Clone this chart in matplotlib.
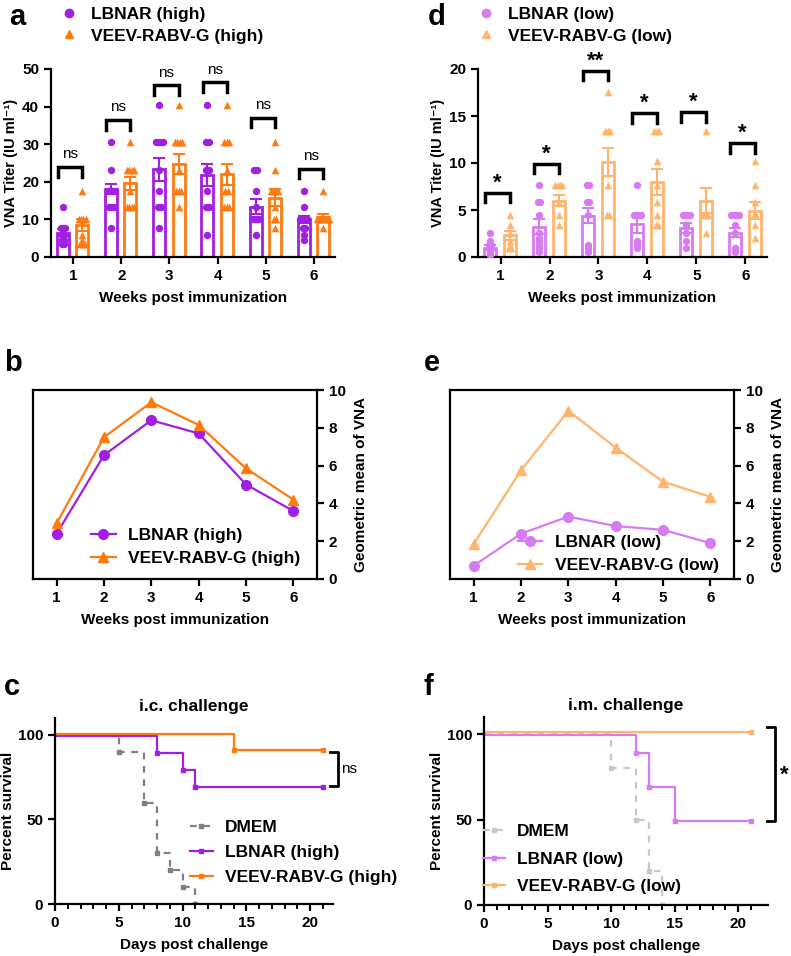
import matplotlib
matplotlib.use("Agg")
import matplotlib.pyplot as plt
import numpy as np
from matplotlib.lines import Line2D

plt.rcParams['font.family'] = ['Liberation Sans', 'DejaVu Sans']
plt.rcParams['font.weight'] = 'bold'
plt.rcParams['axes.labelweight'] = 'bold'
plt.rcParams['axes.linewidth'] = 1.6

W, H = 791, 956

# colours
PURPLE = '#A11FE0'
ORANGE = '#FF7B10'
LPURPLE = '#D77CF0'
LORANGE = '#FFB56E'
GRAY = '#808080'
LGRAY = '#C8C8C8'

weeks = [1, 2, 3, 4, 5, 6]

# ---- panel a: high dose titers ----
lbnar_high_mean = [6.5, 18.0, 23.3, 21.8, 13.4, 10.0]
lbnar_high_sem = [1.0, 1.3, 3.0, 3.0, 2.0, 1.0]
veev_high_mean = [8.5, 19.6, 24.7, 22.0, 15.8, 10.7]
veev_high_sem = [1.5, 1.8, 2.6, 2.8, 2.2, 0.8]
lbnar_high_pts = [
    [13.4, 7.7, 7.7, 7.7, 5.9, 5.9, 4.5, 4.5, 3.4, 3.4],
    [30.6, 23.2, 17.6, 17.6, 17.6, 17.6, 13.4, 13.4, 13.4, 7.7],
    [40.3, 30.6, 30.6, 30.6, 30.6, 23.2, 17.6, 13.4, 13.4, 7.7],
    [40.3, 30.6, 30.6, 23.2, 23.2, 17.6, 13.4, 13.4, 5.9],
    [23.2, 23.2, 17.6, 13.4, 10.2, 10.2, 10.2, 10.2, 5.9],
    [17.6, 13.4, 10.2, 10.2, 10.2, 10.2, 7.7, 7.7, 5.9, 4.5],
]
veev_high_pts = [
    [17.6, 10.2, 10.2, 10.2, 10.2, 5.9, 4.5, 3.4, 3.4, 3.4],
    [30.6, 23.2, 23.2, 23.2, 23.2, 17.6, 13.4, 13.4, 13.4, 13.4],
    [40.3, 30.6, 30.6, 30.6, 30.6, 23.2, 17.6, 17.6, 17.6, 13.4],
    [40.3, 30.6, 30.6, 30.6, 23.2, 17.6, 17.6, 13.4, 13.4, 13.4],
    [30.6, 23.2, 17.6, 17.6, 17.6, 17.6, 13.4, 10.2, 10.2, 7.7],
    [17.6, 10.2, 10.2, 10.2, 10.2, 10.2, 10.2, 7.7],
]
sig_high = ['ns', 'ns', 'ns', 'ns', 'ns', 'ns']
bracket_high = [23.9, 36.4, 45.7, 46.5, 37.0, 23.4]

# ---- panel d: low dose titers ----
lbnar_low_mean = [1.0, 3.2, 4.4, 3.5, 3.1, 2.6]
lbnar_low_sem = [0.3, 0.8, 0.8, 0.9, 0.5, 0.5]
veev_low_mean = [2.3, 6.0, 10.1, 8.0, 6.0, 4.9]
veev_low_sem = [0.5, 0.6, 1.5, 1.4, 1.3, 0.9]
lbnar_low_pts = [
    [2.6, 1.7, 1.3, 1.3, 1.0, 0.8, 0.6, 0.5, 0.3, 0.2],
    [7.7, 5.9, 5.9, 4.5, 2.6, 2.0, 1.7, 1.3, 1.0, 0.5],
    [7.7, 7.7, 5.9, 5.9, 4.5, 1.3, 1.0, 0.5],
    [7.7, 4.5, 4.5, 4.5, 4.5, 1.7, 1.3, 1.0],
    [4.5, 4.5, 4.5, 4.5, 3.4, 2.6, 1.7, 1.0],
    [4.5, 4.5, 4.5, 4.5, 3.4, 2.6, 1.0, 0.8, 0.6, 0.5],
]
veev_low_pts = [
    [4.5, 3.4, 2.6, 1.7, 1.3, 1.0, 1.0],
    [7.7, 7.7, 7.7, 7.7, 5.9, 4.5, 3.4],
    [17.6, 13.4, 13.4, 13.4, 7.7, 4.5, 4.5],
    [13.4, 13.4, 13.4, 10.2, 7.7, 5.9, 4.5, 3.4, 3.4],
    [13.4, 4.5, 4.5, 4.5, 2.6],
    [10.2, 7.7, 5.9, 4.5, 4.5, 3.4, 2.0],
]
sig_low = ['*', '*', '**', '*', '*', '*']
bracket_low = [6.8, 9.9, 19.8, 15.3, 15.4, 12.1]

# ---- panels b, e: geometric means ----
gm_lbnar_high = [2.4, 6.55, 8.4, 7.7, 5.0, 3.6]
gm_veev_high = [2.95, 7.5, 9.35, 8.15, 5.85, 4.2]
gm_lbnar_low = [0.7, 2.4, 3.3, 2.8, 2.6, 1.9]
gm_veev_low = [1.85, 5.75, 8.9, 6.95, 5.15, 4.35]

# ---- panels c, f: survival ----
c_dmem_t = [0, 5, 7, 8, 9, 10, 11]
c_dmem_s = [100, 90, 60, 30, 20, 10, 0]
c_lbnar_t = [0, 8, 10, 11, 21]
c_lbnar_s = [100, 90, 80, 70, 70]
c_veev_t = [0, 14, 21]
c_veev_s = [100, 90, 90]

f_dmem_t = [0, 10, 12, 13, 14]
f_dmem_s = [100, 80, 50, 20, 0]
f_lbnar_t = [0, 12, 13, 15, 21]
f_lbnar_s = [100, 90, 70, 50, 50]
f_veev_t = [0, 21]
f_veev_s = [100, 100]

fig = plt.figure(figsize=(W / 100, H / 100), dpi=100)


def px_axes(l, r, t, b):
    return fig.add_axes([l / W, 1 - b / H, (r - l) / W, (b - t) / H])


def spread(vals, center, step=0.05):
    xs, ys = [], []
    uniq = sorted(set(vals), reverse=True)
    for u in uniq:
        k = vals.count(u)
        offs = (np.arange(k) - (k - 1) / 2) * step
        xs.extend(center + offs)
        ys.extend([u] * k)
    return xs, ys


def titer_panel(ax, m1, s1, p1, m2, s2, p2, c1, c2, ymax, ystep, sig, brk, sigsize):
    x = np.array(weeks, dtype=float)
    bw = 0.25
    x1 = x - 0.21
    x2 = x + 0.19
    ax.bar(x1, m1, width=bw, facecolor='white', edgecolor=c1, linewidth=2, zorder=2)
    ax.bar(x2, m2, width=bw, facecolor='white', edgecolor=c2, linewidth=2, zorder=2)
    for i in range(6):
        xs, ys = spread(p1[i], x1[i])
        ax.scatter(xs, ys, s=28, marker='o', color=c1, zorder=3, linewidths=0)
        xs, ys = spread(p2[i], x2[i])
        ax.scatter(xs, ys, s=30, marker='^', color=c2, zorder=3, linewidths=0)
    ax.errorbar(x1, m1, yerr=s1, fmt='none', ecolor=c1, elinewidth=1.5, capsize=4, capthick=1.5, zorder=4)
    ax.errorbar(x2, m2, yerr=s2, fmt='none', ecolor=c2, elinewidth=1.5, capsize=4, capthick=1.5, zorder=4)
    leg = ymax * 0.05
    for i in range(6):
        xa, xb = x[i] - 0.31, x[i] + 0.19
        ax.plot([xa, xa, xb, xb], [brk[i] - leg, brk[i], brk[i], brk[i] - leg],
                color='black', lw=2.5, solid_joinstyle='miter', clip_on=False)
        if sig[i] == 'ns':
            ax.text((xa + xb) / 2, brk[i] + ymax * 0.03, 'ns', ha='center', va='bottom',
                    fontsize=11, fontweight='normal')
        else:
            ax.text((xa + xb) / 2, brk[i] - ymax * 0.005, sig[i], ha='center', va='bottom',
                    fontsize=sigsize, fontweight='bold')
    ax.set_xlim(0.54, 6.44)
    ax.set_ylim(0, ymax)
    ax.set_yticks(np.arange(0, ymax + 0.1, ystep))
    ax.set_xticks(weeks)
    ax.spines['top'].set_visible(False)
    ax.spines['right'].set_visible(False)
    ax.tick_params(width=1.6, length=5, labelsize=11)
    ax.set_xlabel('Weeks post immunization', fontsize=11, labelpad=6)
    ax.set_ylabel('VNA Titer (IU ml⁻¹)', fontsize=10.5, labelpad=3)


legkw = dict(loc='upper left', frameon=False, fontsize=12.5, borderpad=0.2,
             handletextpad=0.7, labelspacing=0.35, handlelength=1.2)

# panel a
ax_a = px_axes(51, 335, 69, 257)
titer_panel(ax_a, lbnar_high_mean, lbnar_high_sem, lbnar_high_pts,
            veev_high_mean, veev_high_sem, veev_high_pts, PURPLE, ORANGE,
            50, 10, sig_high, bracket_high, 14)
h_a = [Line2D([], [], ls='none', marker='o', color=PURPLE, markersize=6),
       Line2D([], [], ls='none', marker='^', color=ORANGE, markersize=6)]
fig.legend(h_a, ['LBNAR (high)', 'VEEV-RABV-G (high)'],
           bbox_to_anchor=(46 / W, 1 + 5 / H), **legkw)

# panel d
ax_d = px_axes(478, 767, 69, 257)
titer_panel(ax_d, lbnar_low_mean, lbnar_low_sem, lbnar_low_pts,
            veev_low_mean, veev_low_sem, veev_low_pts, LPURPLE, LORANGE,
            20, 5, sig_low, bracket_low, 16)
h_d = [Line2D([], [], ls='none', marker='o', color=LPURPLE, markersize=6),
       Line2D([], [], ls='none', marker='^', color=LORANGE, markersize=6)]
fig.legend(h_d, ['LBNAR (low)', 'VEEV-RABV-G (low)'],
           bbox_to_anchor=(463 / W, 1 + 5 / H), **legkw)


def gm_panel(ax, y1, y2, c1, c2, labels, legpos):
    ax.plot(weeks, y1, color=c1, marker='o', markersize=7, lw=1.6, label=labels[0])
    ax.plot(weeks, y2, color=c2, marker='^', markersize=7, lw=1.6, label=labels[1])
    ax.set_xlim(0.5, 6.5)
    ax.set_ylim(0, 10)
    ax.set_xticks(weeks)
    ax.set_yticks([0, 2, 4, 6, 8, 10])
    ax.yaxis.tick_right()
    ax.yaxis.set_label_position('right')
    ax.tick_params(width=1.6, length=5, labelsize=11)
    ax.tick_params(axis='x', direction='out')
    ax.set_ylabel('Geometric mean of VNA', fontsize=11, labelpad=6)
    ax.set_xlabel('Weeks post immunization', fontsize=11, labelpad=6)
    ax.legend(loc='lower left', bbox_to_anchor=legpos, frameon=False, fontsize=12.5,
              handlelength=1.4, handletextpad=0.7, labelspacing=0.45)


ax_b = px_axes(33, 317, 390, 579)
gm_panel(ax_b, gm_lbnar_high, gm_veev_high, PURPLE, ORANGE,
         ['LBNAR (high)', 'VEEV-RABV-G (high)'], (0.15, -0.015))
ax_e = px_axes(450, 734, 390, 579)
gm_panel(ax_e, gm_lbnar_low, gm_veev_low, LPURPLE, LORANGE,
         ['LBNAR (low)', 'VEEV-RABV-G (low)'], (0.185, -0.05))


def km(ax, t, s, color, ls, label, off):
    y = np.array(s, dtype=float) + off
    ax.step(t, y, where='post', color=color, ls=ls, lw=1.6, label=label,
            marker='s', markersize=3.5, markevery=[])
    ax.plot(t[1:], y[1:], ls='none', marker='s', markersize=3.5, color=color)


def surv_panel(ax, xmax, title):
    ax.set_xlim(0, xmax)
    ax.set_ylim(0, 110)
    ax.set_xticks([0, 5, 10, 15, 20])
    ax.set_xticks(range(0, 22), minor=True)
    ax.set_yticks([0, 50, 100])
    ax.spines['top'].set_visible(False)
    ax.spines['right'].set_visible(False)
    ax.tick_params(width=1.6, length=5, labelsize=11)
    ax.tick_params(which='minor', width=1.4, length=3.5)
    ax.set_xlabel('Days post challenge', fontsize=11, labelpad=6)
    ax.set_ylabel('Percent survival', fontsize=11, labelpad=2)
    ax.set_title(title, fontsize=12.5, fontweight='bold', pad=5)


survleg = dict(loc='lower left', frameon=False, fontsize=12.5,
               handlelength=1.3, handletextpad=0.7, labelspacing=0.55)

# panel c
ax_c = px_axes(55, 333, 718, 904)
km(ax_c, c_dmem_t, c_dmem_s, GRAY, (0, (3, 3)), 'DMEM', 0)
km(ax_c, c_lbnar_t, c_lbnar_s, PURPLE, '-', 'LBNAR (high)', -0.8)
km(ax_c, c_veev_t, c_veev_s, ORANGE, '-', 'VEEV-RABV-G (high)', 0.8)
surv_panel(ax_c, 21.8, 'i.c. challenge')
ax_c.legend(bbox_to_anchor=(0.43, 0.02), **survleg)
ax_c.plot([21.6, 22.2, 22.2, 21.6], [90, 90, 70, 70], color='black', lw=2, clip_on=False)
ax_c.text(22.4, 80, 'ns', fontsize=11, fontweight='normal', va='center', ha='left')

# panel f
ax_f = px_axes(484, 768, 717, 905)
km(ax_f, f_dmem_t, f_dmem_s, LGRAY, (0, (3, 3)), 'DMEM', 0)
km(ax_f, f_lbnar_t, f_lbnar_s, LPURPLE, '-', 'LBNAR (low)', -0.8)
km(ax_f, f_veev_t, f_veev_s, LORANGE, '-', 'VEEV-RABV-G (low)', 1.2)
surv_panel(ax_f, 22.35, 'i.m. challenge')
ax_f.legend(bbox_to_anchor=(-0.06, -0.025), handlelength=1.3, handletextpad=0.7,
            labelspacing=0.7, loc='lower left', frameon=False, fontsize=12.5)
ax_f.plot([22.3, 22.9, 22.9, 22.3], [104, 104, 49, 49], color='black', lw=2, clip_on=False)
ax_f.text(23.3, 76, '*', fontsize=16, fontweight='bold', va='center', ha='left')

# panel letters
for lab, x, y in [('a', 17, 17), ('b', 13, 363), ('c', 12, 687),
                  ('d', 437, 17), ('e', 432, 363), ('f', 428, 687)]:
    fig.text(x / W, 1 - y / H, lab, fontsize=21, fontweight='bold', ha='center', va='center')

fig.savefig('out.png', dpi=100)
